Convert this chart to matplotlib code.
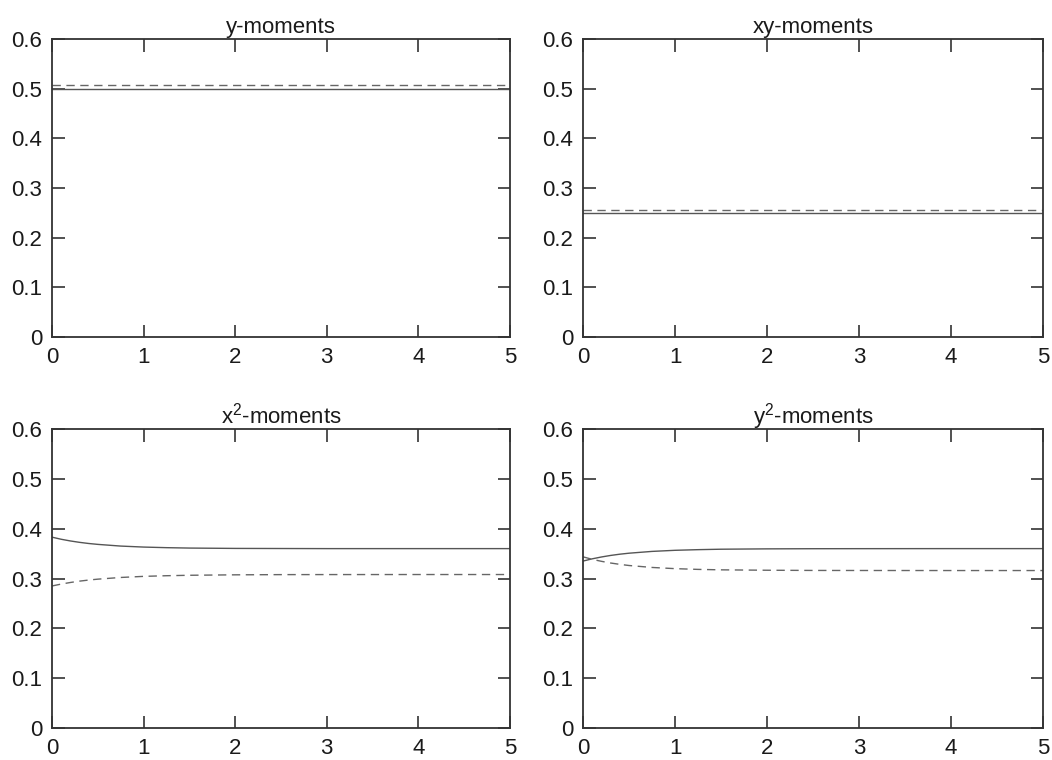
import numpy as np
import matplotlib
matplotlib.use("Agg")
import matplotlib.pyplot as plt
from matplotlib.ticker import FuncFormatter

plt.rcParams['font.family'] = ['Liberation Sans', 'DejaVu Sans']
plt.rcParams['mathtext.fontset'] = 'custom'
plt.rcParams['mathtext.rm'] = 'Liberation Sans'

# time axis (estimated sample points)
t = [0, 0.1, 0.2, 0.3, 0.4, 0.5, 0.75, 1, 1.25, 1.5, 2, 2.5, 3, 4, 5]

# y-moments
y_solid = [0.500] * len(t)
y_dashed = [0.507] * len(t)

# xy-moments
xy_solid = [0.250] * len(t)
xy_dashed = [0.256] * len(t)

# x^2-moments
x2_solid = [0.383, 0.3788, 0.3754, 0.3726, 0.3703, 0.3685, 0.3651, 0.3631,
            0.3619, 0.3611, 0.3604, 0.3602, 0.3600, 0.3600, 0.3600]
x2_dashed = [0.285, 0.2888, 0.2920, 0.2947, 0.2969, 0.2987, 0.3021, 0.3043,
             0.3056, 0.3065, 0.3074, 0.3078, 0.3079, 0.3080, 0.3080]

# y^2-moments
y2_solid = [0.335, 0.3395, 0.3432, 0.3463, 0.3488, 0.3508, 0.3544, 0.3566,
            0.3579, 0.3588, 0.3595, 0.3598, 0.3599, 0.3600, 0.3600]
y2_dashed = [0.3435, 0.3385, 0.3345, 0.3311, 0.3284, 0.3261, 0.3222, 0.3198,
             0.3183, 0.3174, 0.3166, 0.3162, 0.3161, 0.3160, 0.3160]

titles = ['y-moments', 'xy-moments', r'x$^{2}$-moments', r'y$^{2}$-moments']
panels = [(y_solid, y_dashed), (xy_solid, xy_dashed),
          (x2_solid, x2_dashed), (y2_solid, y2_dashed)]

xticks = [0, 1, 2, 3, 4, 5]
yticks = [0, 0.1, 0.2, 0.3, 0.4, 0.5, 0.6]

fig = plt.figure(figsize=(10.52, 7.6), dpi=100)
boxes = [[0.0494, 0.5566, 0.4354, 0.3921],
         [0.5542, 0.5566, 0.4373, 0.3921],
         [0.0494, 0.0421, 0.4354, 0.3934],
         [0.5542, 0.0421, 0.4373, 0.3934]]

fmt = FuncFormatter(lambda v, p: '0' if abs(v) < 1e-9 else '%.1f' % v)

for box, title, (solid, dashed) in zip(boxes, titles, panels):
    ax = fig.add_axes(box)
    ax.plot(t, solid, color='#555555', lw=1.0)
    ax.plot(t, dashed, color='#666666', lw=1.0, dashes=(6, 4))
    ax.set_xlim(0, 5)
    ax.set_ylim(0, 0.6)
    ax.set_xticks(xticks)
    ax.set_yticks(yticks)
    ax.yaxis.set_major_formatter(fmt)
    ax.tick_params(direction='in', length=9, width=1.2, colors='#333333',
                   labelcolor='#1a1a1a', labelsize=16, top=True, right=True,
                   pad=7)
    for s in ax.spines.values():
        s.set_color('#333333')
        s.set_linewidth(1.3)
    ax.set_title(title, fontsize=16, color='#1a1a1a', pad=4)

fig.savefig('out.png', dpi=100)
